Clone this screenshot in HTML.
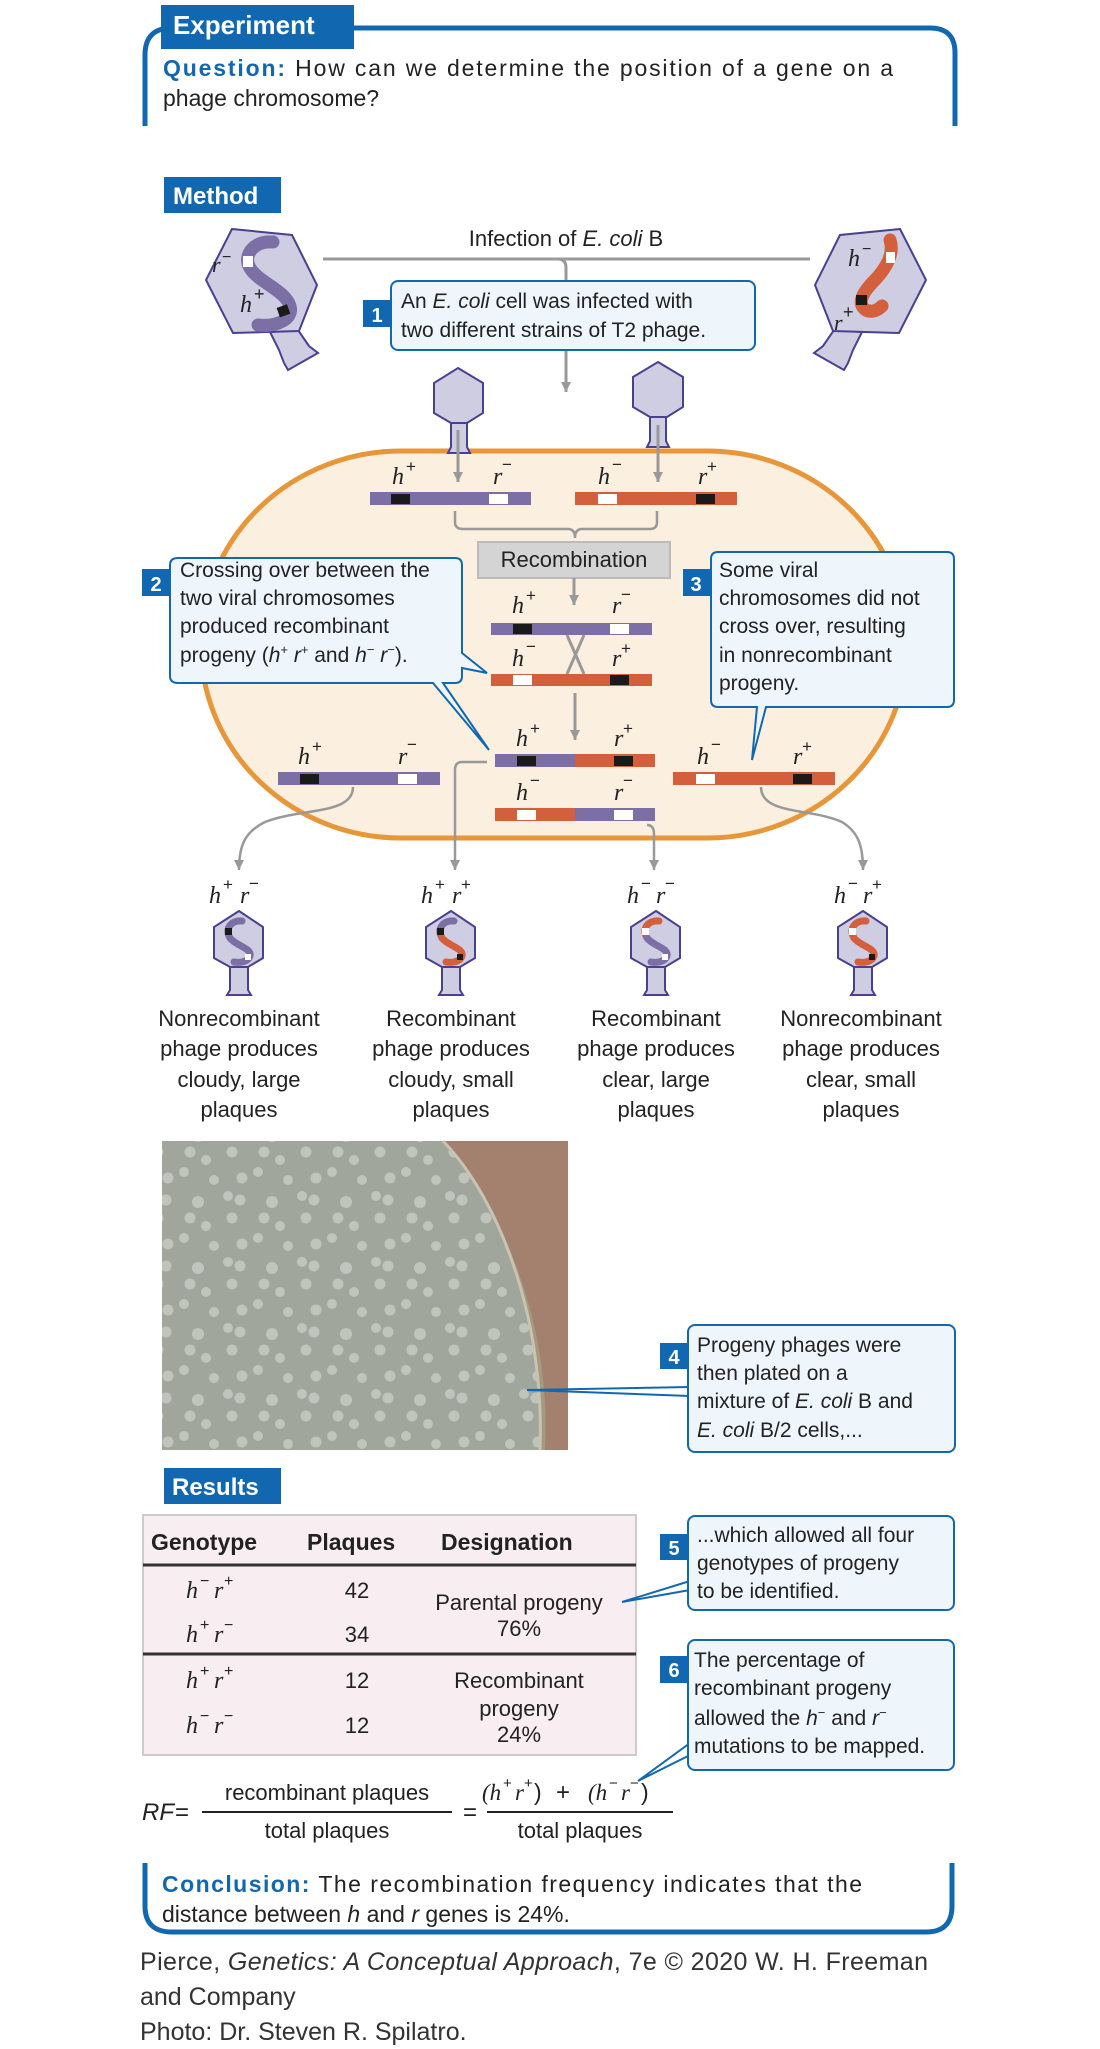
<!DOCTYPE html>
<html><head><meta charset="utf-8"><style>
html,body{margin:0;padding:0;background:#fff}
svg{display:block}
text{font-family:"Liberation Sans",sans-serif}
.i{font-family:"Liberation Serif",serif;font-style:italic}
</style></head><body>
<svg width="1100" height="2049" viewBox="0 0 1100 2049" xmlns="http://www.w3.org/2000/svg">
<defs>
<marker id="ar" viewBox="0 0 10 10" refX="10" refY="5" markerWidth="14" markerHeight="10" orient="auto" markerUnits="userSpaceOnUse">
<path d="M0,0 L10,5 L0,10 Z" fill="#999"/></marker>
<pattern id="pl" width="74" height="66" patternUnits="userSpaceOnUse">
<g fill="#c7ccc5" opacity="0.8">
<circle cx="6" cy="8" r="5"/><circle cx="18" cy="12" r="5.5"/><circle cx="50" cy="14" r="6"/>
<circle cx="10" cy="30" r="5.5"/><circle cx="42" cy="30" r="5.5"/><circle cx="58" cy="38" r="5"/>
<circle cx="20" cy="56" r="5.5"/><circle cx="36" cy="50" r="5"/><circle cx="66" cy="58" r="5"/>
</g></pattern>
<clipPath id="dish"><path d="M162,1141 L443,1141 C500,1200 545,1320 540,1450 L162,1450 Z"/></clipPath>
</defs>

<!-- Experiment frame -->
<path d="M145,126 L145,55 Q145,28 172,28 L930,28 Q955,28 955,53 L955,126" fill="none" stroke="#1168b0" stroke-width="5"/>
<rect x="161" y="5" width="193" height="44" fill="#1168b0"/>
<text x="173" y="34" font-size="26" font-weight="bold" fill="#fff">Experiment</text>
<text x="163" y="76" font-size="23" fill="#222" textLength="730" lengthAdjust="spacing"><tspan fill="#1168b0" font-weight="bold">Question:</tspan> How can we determine the position of a gene on a</text>
<text x="163" y="106" font-size="23" fill="#222">phage chromosome?</text>

<!-- Method -->
<rect x="164" y="177" width="117" height="36" fill="#1168b0"/>
<text x="173" y="204" font-size="24" font-weight="bold" fill="#fff">Method</text>

<text x="566" y="246" font-size="22" text-anchor="middle" fill="#222">Infection of <tspan font-style="italic">E. coli</tspan> B</text>
<path d="M323,259 L810,259" stroke="#999" stroke-width="3" fill="none"/>
<path d="M558,259 Q566,259 566,268 L566,392" stroke="#999" stroke-width="3" fill="none" marker-end="url(#ar)"/>

<!-- Box 1 -->
<rect x="391" y="281" width="364" height="69" rx="7" fill="#eef6fc" stroke="#1168b0" stroke-width="2"/>
<rect x="363" y="300" width="28" height="27" fill="#1168b0"/>
<text x="377" y="322" font-size="20" font-weight="bold" fill="#fff" text-anchor="middle">1</text>
<text x="401" y="308" font-size="21" fill="#222">An <tspan font-style="italic">E. coli</tspan> cell was infected with</text>
<text x="401" y="337" font-size="21" fill="#222">two different strains of T2 phage.</text>

<!-- big left phage -->
<g stroke="#4a4090" stroke-width="2" fill="#cfcde2">
<path d="M270,332 L298,330 L309,346 L318,353 L288,370 L284,363 L279,350 Z"/>
<path d="M232,229 L292,235 L317,285 L299,331 L233,333 L206,280 Z"/>
</g>
<path d="M273,242 C255,240 242,255 250,268 C258,282 285,290 290,306 C294,320 275,327 258,325" fill="none" stroke="#7b6fa6" stroke-width="13" stroke-linecap="round"/>
<rect x="243" y="256" width="10" height="11" fill="#fff"/>
<rect x="278" y="306" width="11" height="10" fill="#1a1a1a" transform="rotate(-20 283 311)"/>
<text x="212" y="272" font-size="22" class="i" fill="#222">r</text><text x="222" y="262" font-size="16" fill="#222">−</text>
<text x="240" y="312" font-size="24" class="i" fill="#222">h</text><text x="254" y="300" font-size="18" fill="#222">+</text>

<!-- big right phage -->
<g stroke="#4a4090" stroke-width="2" fill="#cfcde2">
<path d="M862,332 L834,330 L823,346 L814,353 L844,370 L848,363 L853,350 Z"/>
<path d="M900,229 L840,235 L815,285 L833,331 L899,333 L926,280 Z"/>
</g>
<path d="M890,240 C895,255 885,270 872,283 C860,296 858,305 866,310 C872,313 878,310 882,306" fill="none" stroke="#d45f3c" stroke-width="13" stroke-linecap="round"/>
<rect x="886" y="252" width="9" height="11" fill="#fff"/>
<rect x="856" y="295" width="11" height="10" fill="#1a1a1a"/>
<text x="848" y="266" font-size="24" class="i" fill="#222">h</text><text x="862" y="254" font-size="16" fill="#222">−</text>
<text x="834" y="330" font-size="22" class="i" fill="#222">r</text><text x="843" y="318" font-size="18" fill="#222">+</text>

<!-- cell -->
<rect x="201" y="451" width="706" height="387" rx="200" ry="193" fill="#fbefe0" stroke="#e8963a" stroke-width="5"/>

<!-- small phages attached -->
<g stroke="#4a4090" stroke-width="2" fill="#cfcde2">
<path d="M451,420 L467,420 L467,447 L470,453 L448,453 L451,447 Z"/>
<path d="M458,368 L483,383 L483,413 L467,423 L451,423 L434,413 L434,383 Z"/>
<path d="M650,416 L666,416 L666,441 L669,447 L647,447 L650,441 Z"/>
<path d="M658,362 L683,377 L683,407 L667,417 L650,417 L633,407 L633,377 Z"/>
</g>
<path d="M458,430 L458,482" stroke="#999" stroke-width="3" marker-end="url(#ar)"/>
<path d="M658,425 L658,482" stroke="#999" stroke-width="3" marker-end="url(#ar)"/>

<!-- row1 chromosomes -->
<rect x="370" y="492" width="161" height="13" fill="#7b6fa6"/>
<rect x="391" y="494" width="19" height="10" fill="#1a1a1a"/><rect x="489" y="494" width="19" height="10" fill="#fff"/>
<rect x="575" y="492" width="162" height="13" fill="#d45f3c"/>
<rect x="598" y="494" width="19" height="10" fill="#fff"/><rect x="696" y="494" width="19" height="10" fill="#1a1a1a"/>
<g font-size="24" fill="#222">
<text x="392" y="484" class="i">h</text><text x="406" y="472" font-size="17">+</text>
<text x="493" y="484" class="i">r</text><text x="502" y="470" font-size="17">−</text>
<text x="598" y="484" class="i">h</text><text x="612" y="470" font-size="17">−</text>
<text x="698" y="484" class="i">r</text><text x="707" y="472" font-size="17">+</text>
</g>
<path d="M455,511 L455,522 Q455,529 463,529 L568,529 Q575,529 575,538 Q575,529 582,529 L650,529 Q657,529 657,522 L657,511" fill="none" stroke="#999" stroke-width="2.5"/>

<!-- recombination -->
<rect x="478" y="542" width="192" height="36" fill="#d4d4d4" stroke="#bbb" stroke-width="2"/>
<text x="574" y="567" font-size="22" text-anchor="middle" fill="#222">Recombination</text>
<path d="M574,578 L574,605" stroke="#999" stroke-width="3" marker-end="url(#ar)"/>

<!-- middle pair -->
<rect x="491" y="623" width="161" height="12" fill="#7b6fa6"/>
<rect x="513" y="624" width="19" height="10" fill="#1a1a1a"/><rect x="610" y="624" width="19" height="10" fill="#fff"/>
<path d="M567,635 L584,674 M584,635 L567,674" stroke="#999" stroke-width="3"/>
<rect x="491" y="674" width="161" height="12" fill="#d45f3c"/>
<rect x="513" y="675" width="19" height="10" fill="#fff"/><rect x="610" y="675" width="19" height="10" fill="#1a1a1a"/>
<g font-size="24" fill="#222">
<text x="512" y="613" class="i">h</text><text x="526" y="601" font-size="17">+</text>
<text x="612" y="613" class="i">r</text><text x="621" y="600" font-size="17">−</text>
<text x="512" y="666" class="i">h</text><text x="526" y="652" font-size="17">−</text>
<text x="612" y="666" class="i">r</text><text x="621" y="654" font-size="17">+</text>
</g>
<path d="M575,693 L575,740" stroke="#999" stroke-width="3" marker-end="url(#ar)"/>

<!-- box 2 -->
<path d="M178,558 L455,558 Q462,558 462,565 L462,653 L487,673 L462,668 L462,676 Q462,683 455,683 L443,683 L489,750 L433,683 L178,683 Q170,683 170,676 L170,565 Q170,558 178,558 Z" fill="#eef6fc" stroke="#1168b0" stroke-width="2"/>
<rect x="142" y="569" width="28" height="27" fill="#1168b0"/>
<text x="156" y="591" font-size="20" font-weight="bold" fill="#fff" text-anchor="middle">2</text>
<g font-size="21" fill="#222">
<text x="180" y="577">Crossing over between the</text>
<text x="180" y="605">two viral chromosomes</text>
<text x="180" y="633">produced recombinant</text>
<text x="180" y="662">progeny (<tspan font-style="italic">h</tspan><tspan font-size="13" dy="-8">+</tspan><tspan dy="8" font-style="italic"> r</tspan><tspan font-size="13" dy="-8">+</tspan><tspan dy="8"> and </tspan><tspan font-style="italic">h</tspan><tspan font-size="13" dy="-8">−</tspan><tspan dy="8" font-style="italic"> r</tspan><tspan font-size="13" dy="-8">−</tspan><tspan dy="8">).</tspan></text>
</g>

<!-- box 3 -->
<path d="M718,552 L947,552 Q954,552 954,559 L954,700 Q954,707 947,707 L766,707 L752,760 L757,707 L718,707 Q711,707 711,700 L711,559 Q711,552 718,552 Z" fill="#eef6fc" stroke="#1168b0" stroke-width="2"/>
<rect x="683" y="569" width="27" height="27" fill="#1168b0"/>
<text x="696" y="591" font-size="20" font-weight="bold" fill="#fff" text-anchor="middle">3</text>
<g font-size="21" fill="#222">
<text x="719" y="577">Some viral</text>
<text x="719" y="605">chromosomes did not</text>
<text x="719" y="633">cross over, resulting</text>
<text x="719" y="662">in nonrecombinant</text>
<text x="719" y="690">progeny.</text>
</g>

<!-- lower chromosomes -->
<rect x="495" y="754" width="80" height="13" fill="#7b6fa6"/><rect x="575" y="754" width="80" height="13" fill="#d45f3c"/>
<rect x="517" y="756" width="19" height="10" fill="#1a1a1a"/><rect x="614" y="756" width="19" height="10" fill="#1a1a1a"/>
<rect x="495" y="808" width="80" height="13" fill="#d45f3c"/><rect x="575" y="808" width="80" height="13" fill="#7b6fa6"/>
<rect x="517" y="810" width="19" height="10" fill="#fff"/><rect x="614" y="810" width="19" height="10" fill="#fff"/>
<rect x="278" y="772" width="162" height="13" fill="#7b6fa6"/>
<rect x="300" y="774" width="19" height="10" fill="#1a1a1a"/><rect x="398" y="774" width="19" height="10" fill="#fff"/>
<rect x="673" y="772" width="162" height="13" fill="#d45f3c"/>
<rect x="696" y="774" width="19" height="10" fill="#fff"/><rect x="793" y="774" width="19" height="10" fill="#1a1a1a"/>
<g font-size="24" fill="#222">
<text x="516" y="746" class="i">h</text><text x="530" y="734" font-size="17">+</text>
<text x="614" y="746" class="i">r</text><text x="623" y="734" font-size="17">+</text>
<text x="516" y="800" class="i">h</text><text x="530" y="786" font-size="17">−</text>
<text x="614" y="800" class="i">r</text><text x="623" y="786" font-size="17">−</text>
<text x="298" y="764" class="i">h</text><text x="312" y="752" font-size="17">+</text>
<text x="398" y="764" class="i">r</text><text x="407" y="750" font-size="17">−</text>
<text x="697" y="764" class="i">h</text><text x="711" y="750" font-size="17">−</text>
<text x="793" y="764" class="i">r</text><text x="802" y="752" font-size="17">+</text>
</g>

<!-- connectors to progeny -->
<g stroke="#999" stroke-width="2.5" fill="none" marker-end="url(#ar)">
<path d="M353,787 C353,815 300,808 265,822 C245,832 239,845 239,870"/>
<path d="M487,762 L462,762 Q455,762 455,770 L455,870"/>
<path d="M647,825 Q654,825 654,834 L654,870"/>
<path d="M761,787 C761,815 812,808 842,822 C858,832 863,845 863,870"/>
</g>

<!-- genotype labels -->
<g font-size="24" fill="#222">
<text x="209" y="903" class="i">h</text><text x="223" y="890" font-size="17">+</text><text x="240" y="903" class="i">r</text><text x="249" y="889" font-size="17">−</text>
<text x="421" y="903" class="i">h</text><text x="435" y="890" font-size="17">+</text><text x="452" y="903" class="i">r</text><text x="461" y="890" font-size="17">+</text>
<text x="627" y="903" class="i">h</text><text x="641" y="889" font-size="17">−</text><text x="656" y="903" class="i">r</text><text x="665" y="889" font-size="17">−</text>
<text x="834" y="903" class="i">h</text><text x="848" y="889" font-size="17">−</text><text x="863" y="903" class="i">r</text><text x="872" y="890" font-size="17">+</text>
</g>

<!-- progeny phages -->
<g id="ph">
<g stroke="#4a4090" stroke-width="2" fill="#cfcde2">
<path d="M230,964 L248,964 L248,990 L251,995 L227,995 L230,990 Z"/>
<path d="M239,911 L263,927 L263,958 L248,967 L230,967 L214,958 L214,927 Z"/>
</g>
</g>
<g transform="translate(212,0)"><use href="#ph"/></g>
<g transform="translate(417,0)"><use href="#ph"/></g>
<g transform="translate(624,0)"><use href="#ph"/></g>
<g fill="none" stroke-width="7" stroke-linecap="round">
<path d="M242,921 C232,920 224,928 230,938" stroke="#7b6fa6"/><path d="M230,938 C236,946 252,948 250,956 C248,962 240,963 234,962" stroke="#7b6fa6"/>
<path d="M454,921 C444,920 436,928 442,938" stroke="#7b6fa6"/><path d="M442,938 C448,946 464,948 462,956 C460,962 452,963 446,962" stroke="#d45f3c"/>
<path d="M659,921 C649,920 641,928 647,938" stroke="#d45f3c"/><path d="M647,938 C653,946 669,948 667,956 C665,962 657,963 651,962" stroke="#7b6fa6"/>
<path d="M866,921 C856,920 848,928 854,938" stroke="#d45f3c"/><path d="M854,938 C860,946 876,948 874,956 C872,962 864,963 858,962" stroke="#d45f3c"/>
</g>
<rect x="225" y="928" width="7" height="7" fill="#1a1a1a"/><rect x="245" y="954" width="6" height="6" fill="#fff"/>
<rect x="437" y="928" width="7" height="7" fill="#1a1a1a"/><rect x="457" y="954" width="6" height="6" fill="#1a1a1a"/>
<rect x="642" y="928" width="7" height="7" fill="#fff"/><rect x="662" y="954" width="6" height="6" fill="#fff"/>
<rect x="849" y="928" width="7" height="7" fill="#fff"/><rect x="869" y="954" width="6" height="6" fill="#1a1a1a"/>

<!-- captions -->
<g font-size="22" fill="#222" text-anchor="middle">
<text x="239" y="1026">Nonrecombinant</text><text x="239" y="1056">phage produces</text><text x="239" y="1087">cloudy, large</text><text x="239" y="1117">plaques</text>
<text x="451" y="1026">Recombinant</text><text x="451" y="1056">phage produces</text><text x="451" y="1087">cloudy, small</text><text x="451" y="1117">plaques</text>
<text x="656" y="1026">Recombinant</text><text x="656" y="1056">phage produces</text><text x="656" y="1087">clear, large</text><text x="656" y="1117">plaques</text>
<text x="861" y="1026">Nonrecombinant</text><text x="861" y="1056">phage produces</text><text x="861" y="1087">clear, small</text><text x="861" y="1117">plaques</text>
</g>

<!-- photo -->
<rect x="162" y="1141" width="406" height="309" fill="#a3816e"/>
<path d="M436,1141 C500,1200 552,1320 545,1450 L528,1450 C540,1320 495,1200 430,1141 Z" fill="#a59a7e"/>
<rect x="162" y="1141" width="406" height="309" fill="#a0a69b" clip-path="url(#dish)"/>
<rect x="162" y="1141" width="406" height="309" fill="url(#pl)" clip-path="url(#dish)"/>
<path d="M443,1141 C500,1200 545,1320 540,1450" fill="none" stroke="#c9c3b2" stroke-width="3"/>

<!-- box 4 -->
<path d="M527,1390 L690,1387 M527,1390 L690,1396" fill="none" stroke="#1168b0" stroke-width="2"/>
<rect x="688" y="1325" width="267" height="127" rx="7" fill="#eef6fc" stroke="#1168b0" stroke-width="2"/>
<rect x="660" y="1343" width="28" height="26" fill="#1168b0"/>
<text x="674" y="1364" font-size="20" font-weight="bold" fill="#fff" text-anchor="middle">4</text>
<g font-size="21" fill="#222">
<text x="697" y="1352">Progeny phages were</text>
<text x="697" y="1380">then plated on a</text>
<text x="697" y="1408">mixture of <tspan font-style="italic">E. coli</tspan> B and</text>
<text x="697" y="1437"><tspan font-style="italic">E. coli</tspan> B/2 cells,...</text>
</g>

<!-- Results -->
<rect x="164" y="1468" width="117" height="36" fill="#1168b0"/>
<text x="172" y="1495" font-size="24" font-weight="bold" fill="#fff">Results</text>

<rect x="143" y="1515" width="493" height="240" fill="#f8eef2" stroke="#ccc" stroke-width="2"/>
<path d="M143,1565 L636,1565 M143,1654 L636,1654" stroke="#333" stroke-width="3"/>
<g font-size="23" font-weight="bold" fill="#222">
<text x="151" y="1550">Genotype</text><text x="307" y="1550">Plaques</text><text x="441" y="1550">Designation</text>
</g>
<g font-size="24" fill="#222">
<text x="186" y="1598" class="i">h</text><text x="200" y="1586" font-size="16">−</text><text x="214" y="1598" class="i">r</text><text x="224" y="1586" font-size="16">+</text>
<text x="186" y="1642" class="i">h</text><text x="200" y="1630" font-size="16">+</text><text x="214" y="1642" class="i">r</text><text x="224" y="1630" font-size="16">−</text>
<text x="186" y="1688" class="i">h</text><text x="200" y="1676" font-size="16">+</text><text x="214" y="1688" class="i">r</text><text x="224" y="1676" font-size="16">+</text>
<text x="186" y="1733" class="i">h</text><text x="200" y="1721" font-size="16">−</text><text x="214" y="1733" class="i">r</text><text x="224" y="1721" font-size="16">−</text>
</g>
<g font-size="22" fill="#222" text-anchor="middle">
<text x="357" y="1598">42</text><text x="357" y="1642">34</text><text x="357" y="1688">12</text><text x="357" y="1733">12</text>
<text x="519" y="1610">Parental progeny</text><text x="519" y="1636">76%</text>
<text x="519" y="1688">Recombinant</text><text x="519" y="1716">progeny</text><text x="519" y="1742">24%</text>
</g>

<!-- box 5 -->
<path d="M622,1602 L690,1581 M622,1602 L690,1590" fill="none" stroke="#1168b0" stroke-width="2"/>
<rect x="688" y="1516" width="266" height="94" rx="7" fill="#eef6fc" stroke="#1168b0" stroke-width="2"/>
<rect x="660" y="1534" width="28" height="26" fill="#1168b0"/>
<text x="674" y="1555" font-size="20" font-weight="bold" fill="#fff" text-anchor="middle">5</text>
<g font-size="21" fill="#222">
<text x="697" y="1542">...which allowed all four</text>
<text x="697" y="1570">genotypes of progeny</text>
<text x="697" y="1598">to be identified.</text>
</g>

<!-- box 6 -->
<path d="M638,1781 L690,1743 M638,1781 L690,1755" fill="none" stroke="#1168b0" stroke-width="2"/>
<rect x="688" y="1640" width="266" height="130" rx="7" fill="#eef6fc" stroke="#1168b0" stroke-width="2"/>
<rect x="660" y="1656" width="28" height="27" fill="#1168b0"/>
<text x="674" y="1677" font-size="20" font-weight="bold" fill="#fff" text-anchor="middle">6</text>
<g font-size="21" fill="#222">
<text x="694" y="1667">The percentage of</text>
<text x="694" y="1695">recombinant progeny</text>
<text x="694" y="1725">allowed the <tspan font-style="italic">h</tspan><tspan font-size="13" dy="-8">−</tspan><tspan dy="8"> and </tspan><tspan font-style="italic">r</tspan><tspan font-size="13" dy="-8">−</tspan></text>
<text x="694" y="1753">mutations to be mapped.</text>
</g>

<!-- RF formula -->
<g fill="#222">
<text x="142" y="1820" font-size="24" font-style="italic">RF</text><text x="175" y="1820" font-size="24">=</text>
<path d="M202,1812 L452,1812 M487,1812 L673,1812" stroke="#222" stroke-width="2"/>
<text x="463" y="1820" font-size="24">=</text>
<text x="327" y="1800" font-size="22" text-anchor="middle">recombinant plaques</text>
<text x="327" y="1838" font-size="22" text-anchor="middle">total plaques</text>
<text x="580" y="1838" font-size="22" text-anchor="middle">total plaques</text>
<text x="482" y="1800" font-size="23" class="i">(h</text><text x="503" y="1788" font-size="15">+</text><text x="515" y="1800" font-size="23" class="i">r</text><text x="524" y="1788" font-size="15">+</text><text x="534" y="1800" font-size="23">)</text>
<text x="556" y="1800" font-size="24">+</text>
<text x="588" y="1800" font-size="23" class="i">(h</text><text x="609" y="1788" font-size="15">−</text><text x="621" y="1800" font-size="23" class="i">r</text><text x="630" y="1788" font-size="15">−</text><text x="641" y="1800" font-size="23">)</text>
</g>

<!-- Conclusion -->
<path d="M145,1863 L145,1906 Q145,1932 172,1932 L926,1932 Q952,1932 952,1906 L952,1863" fill="none" stroke="#1168b0" stroke-width="5"/>
<text x="162" y="1892" font-size="23" fill="#222" textLength="700" lengthAdjust="spacing"><tspan fill="#1168b0" font-weight="bold">Conclusion:</tspan> The recombination frequency indicates that the</text>
<text x="162" y="1922" font-size="23" fill="#222">distance between <tspan font-style="italic">h</tspan> and <tspan font-style="italic">r</tspan> genes is 24%.</text>

<!-- credits -->
<g font-size="25" fill="#333">
<text x="140" y="1970" textLength="788" lengthAdjust="spacing">Pierce, <tspan font-style="italic">Genetics: A Conceptual Approach</tspan>, 7e © 2020 W. H. Freeman</text>
<text x="140" y="2005">and Company</text>
<text x="140" y="2040">Photo: Dr. Steven R. Spilatro.</text>
</g>
</svg>
</body></html>
